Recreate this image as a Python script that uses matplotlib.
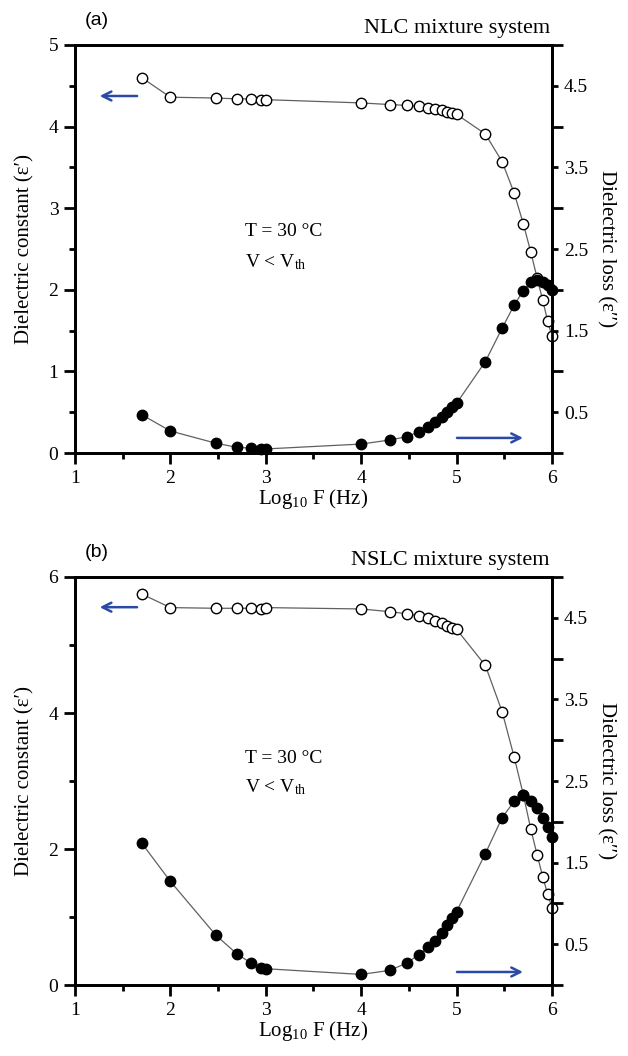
import matplotlib
matplotlib.use('Agg')
import matplotlib.pyplot as plt
from matplotlib.ticker import MultipleLocator, NullFormatter

# log10 of measuring frequency (50 Hz ... 1 MHz)
log_f = [1.699, 2.0, 2.477, 2.699, 2.845, 2.954, 3.0, 4.0, 4.301, 4.477,
         4.602, 4.699, 4.778, 4.845, 4.903, 4.954, 5.0, 5.301, 5.477, 5.602,
         5.699, 5.778, 5.845, 5.903, 5.954, 6.0]

# (a) NLC mixture
nlc_eps1 = [4.60, 4.36, 4.35, 4.34, 4.34, 4.33, 4.33, 4.29, 4.27, 4.26,
            4.25, 4.23, 4.21, 4.20, 4.18, 4.17, 4.15, 3.91, 3.57, 3.19,
            2.81, 2.46, 2.14, 1.87, 1.62, 1.43]
nlc_eps2 = [0.47, 0.27, 0.12, 0.07, 0.06, 0.05, 0.05, 0.11, 0.16, 0.20,
            0.26, 0.32, 0.38, 0.44, 0.50, 0.57, 0.61, 1.12, 1.53, 1.81,
            1.99, 2.09, 2.12, 2.10, 2.06, 2.00]

# (b) NSLC mixture
nslc_eps1 = [5.75, 5.55, 5.54, 5.54, 5.54, 5.53, 5.55, 5.53, 5.49, 5.46,
             5.43, 5.39, 5.35, 5.32, 5.28, 5.25, 5.23, 4.70, 4.02, 3.36,
             2.80, 2.29, 1.91, 1.59, 1.34, 1.14]
nslc_eps2 = [1.74, 1.27, 0.61, 0.38, 0.27, 0.21, 0.20, 0.13, 0.18, 0.27,
             0.37, 0.46, 0.54, 0.64, 0.74, 0.82, 0.90, 1.61, 2.05, 2.25,
             2.33, 2.25, 2.17, 2.05, 1.94, 1.82]

SERIF = ['Liberation Serif', 'DejaVu Serif']
plt.rcParams['font.family'] = SERIF
plt.rcParams['mathtext.fontset'] = 'custom'
plt.rcParams['mathtext.rm'] = 'Liberation Serif'
plt.rcParams['mathtext.it'] = 'Liberation Serif:italic'
FS = 14
BLUE = '#2b4aa6'
LINE = '#606060'

fig = plt.figure(figsize=(6.28, 10.56), dpi=100)


def panel(rect, eps1, eps2, ymax, ystep, tag, title, tpos, arr_l, arr_r):
    ax = fig.add_axes(rect)
    ax2 = ax.twinx()

    ax.plot(log_f, eps1, '-', color=LINE, lw=0.9, marker='o', ms=7.5,
            mfc='white', mec='black', mew=1.0, clip_on=False, zorder=3)
    ax2.plot(log_f, eps2, '-', color=LINE, lw=0.9, marker='o', ms=7.5,
             mfc='black', mec='black', clip_on=False, zorder=3)

    ax.set_xlim(1, 6)
    ax.set_ylim(0, ymax)
    ax2.set_ylim(0, 5)
    ax.xaxis.set_major_locator(MultipleLocator(1))
    ax.xaxis.set_minor_locator(MultipleLocator(0.5))
    ax.yaxis.set_major_locator(MultipleLocator(ystep))
    ax.yaxis.set_minor_locator(MultipleLocator(ystep / 2))

    # right axis: long ticks at integers (no labels), labelled half-steps
    ax2.yaxis.set_major_locator(MultipleLocator(1))
    ax2.yaxis.set_major_formatter(NullFormatter())
    halves = [0.5, 1.5, 2.5, 3.5, 4.5]
    ax2.set_yticks(halves, [str(h) for h in halves], minor=True)

    for a in (ax, ax2):
        for s in a.spines.values():
            s.set_linewidth(2.0)
        a.tick_params(which='major', direction='out', length=8, width=2.0,
                      labelsize=FS, pad=4, color='black')
        a.tick_params(which='minor', direction='out', length=4.5, width=2.0,
                      labelsize=FS, pad=4)

    ax.set_xlabel(r'Log$_{10}$ F (Hz)', fontsize=FS + 1, labelpad=0)
    ax.set_ylabel('Dielectric constant (ε′)', fontsize=FS + 1, labelpad=10)
    ax2.set_ylabel('Dielectric loss (ε′′)', fontsize=FS + 1, rotation=-90,
                   labelpad=20)

    ax.text(0.02, 1.06, tag, transform=ax.transAxes, fontsize=FS,
            family=['Liberation Sans', 'DejaVu Sans'], ha='left', va='center')
    ax.text(0.995, 1.04, title, transform=ax.transAxes, fontsize=FS + 2,
            ha='right', va='center')

    ax.text(0.356, tpos[0], 'T = 30 °C', transform=ax.transAxes,
            fontsize=FS, ha='left', va='center')
    ax.text(0.356, tpos[1], r'V < V$_{\rm th}$', transform=ax.transAxes,
            fontsize=FS, ha='left', va='center')

    ax.annotate('', xy=(0.046, arr_l), xytext=(0.136, arr_l),
                xycoords='axes fraction',
                arrowprops=dict(arrowstyle='->', color=BLUE, lw=1.8,
                                mutation_scale=16))
    ax.annotate('', xy=(0.945, arr_r), xytext=(0.795, arr_r),
                xycoords='axes fraction',
                arrowprops=dict(arrowstyle='->', color=BLUE, lw=1.8,
                                mutation_scale=16))
    ax.set_zorder(ax2.get_zorder() - 1)
    ax.patch.set_visible(False)
    return ax


panel([0.1194, 0.571, 0.7596, 0.3864], nlc_eps1, nlc_eps2, 5, 1, '(a)',
      'NLC mixture system', (0.542, 0.468), 0.875, 0.037)
panel([0.1194, 0.0672, 0.7596, 0.3864], nslc_eps1, nslc_eps2, 6, 2, '(b)',
      'NSLC mixture system', (0.556, 0.485), 0.926, 0.032)

fig.savefig('out.png', dpi=100, facecolor='white')
